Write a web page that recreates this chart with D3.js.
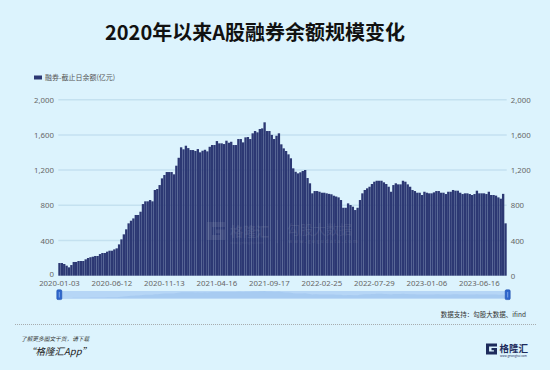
<!DOCTYPE html>
<html>
<head>
<meta charset="utf-8">
<script src="https://cdn.jsdelivr.net/npm/d3@7"></script>
<style>
  body { margin: 0; background: #dcf3fd; }
  svg { display: block; font-family: "Noto Sans CJK SC", "Noto Sans", sans-serif; }
</style>
</head>
<body>
<svg id="chart" width="550" height="370"></svg>
<script>
// weekly short-selling balance (亿元), last trading day of each week
var values = [
  144,144,133,114,95,121,156,156,167,167,
  167,186,201,210,216,224,224,246,258,258,
  273,284,284,299,311,356,413,470,527,595,
  625,651,690,690,727,814,845,845,860,845,
  974,985,1030,1106,1144,1178,1178,1178,1152,1250,
  1340,1459,1436,1477,1450,1428,1428,1417,1439,1402,
  1420,1431,1413,1465,1485,1485,1530,1504,1504,1496,
  1534,1511,1522,1485,1485,1553,1553,1515,1572,1576,
  1553,1618,1644,1629,1667,1674,1743,1644,1644,1600,
  1553,1590,1618,1493,1447,1417,1379,1334,1220,1181,
  1163,1175,1190,1201,1110,1050,936,962,962,954,
  943,943,936,930,925,909,900,890,860,772,
  772,822,803,784,746,772,860,936,974,993,
  1011,1042,1068,1079,1079,1079,1061,1042,1011,954,
  1030,1050,1038,1038,1079,1068,1038,1011,974,962,
  943,943,917,954,943,936,936,947,962,962,
  943,943,928,954,954,974,966,966,943,928,
  936,936,928,917,928,966,936,936,936,928,
  954,917,917,910,890,875,930,595
];

// weeks with no trading day at all (holidays)
var closedWeeks = ["2020-01-31", "2022-02-04", "2022-10-07", "2023-01-27"];
var yTicks = [0, 400, 800, 1200, 1600, 2000];
var labelEvery = 22;

var fmt = d3.timeFormat("%Y-%m-%d");
var weeks = d3.timeFriday.range(new Date(2020, 0, 3), new Date(2023, 8, 2))
  .map(fmt)
  .filter(function(d) { return closedWeeks.indexOf(d) < 0; });

var svg = d3.select("#chart");
var barColor = "#2c3873";

svg.append("rect").attr("width", 550).attr("height", 370).attr("fill", "#dcf3fd");

// title
svg.append("text")
  .attr("x", 255).attr("y", 40)
  .attr("text-anchor", "middle")
  .attr("font-size", 20).attr("font-weight", 700)
  .attr("fill", "#111")
  .text("2020年以来A股融券余额规模变化");

// legend
svg.append("rect").attr("x", 34).attr("y", 75.5).attr("width", 8).attr("height", 4).attr("fill", barColor);
svg.append("text")
  .attr("x", 45).attr("y", 80)
  .attr("font-size", 7).attr("fill", "#555")
  .text("融券-截止日余额(亿元)");

var x = d3.scaleBand()
  .domain(d3.range(values.length))
  .range([58.3, 506.7])
  .paddingInner(0.02);

var y = d3.scaleLinear().domain([0, 2000]).range([275.7, 99.7]);

// grid
svg.append("g").selectAll("line")
  .data(yTicks.slice(1))
  .enter().append("line")
  .attr("x1", 58.3).attr("x2", 506.7)
  .attr("y1", function(d) { return y(d); })
  .attr("y2", function(d) { return y(d); })
  .attr("stroke", "#c4e1f0").attr("stroke-width", 1.5);

// bars
svg.append("g").selectAll("rect")
  .data(values)
  .enter().append("rect")
  .attr("x", function(d, i) { return x(i); })
  .attr("width", x.bandwidth())
  .attr("y", function(d) { return y(d); })
  .attr("height", function(d) { return y(0) - y(d); })
  .attr("fill", barColor);

// watermark
function gIcon(g, x0, y0, s, fill) {
  var pts = [[1,0],[0,0],[0,1],[1,1],[1,0.42],[0.5,0.42],[0.5,0.62],[0.72,0.62],
             [0.72,0.72],[0.28,0.72],[0.28,0.28],[1,0.28]];
  g.append("path")
    .attr("d", d3.line()(pts.map(function(p) { return [x0 + p[0] * s, y0 + p[1] * s]; })) + "Z")
    .attr("fill", fill);
}
var wm = svg.append("g").attr("opacity", 0.16);
gIcon(wm, 207, 222, 18, "#9aa0b8");
wm.append("text").attr("x", 230).attr("y", 236).attr("font-size", 13).attr("font-weight", 700)
  .attr("fill", "#9aa0b8").text("格隆汇");
wm.append("text").attr("x", 230).attr("y", 243.5).attr("font-size", 3.5)
  .attr("fill", "#9aa0b8").text("www.gelonghui.com");
wm.append("line").attr("x1", 277.3).attr("x2", 277.3).attr("y1", 220).attr("y2", 243)
  .attr("stroke", "#9aa0b8").attr("stroke-width", 1);
wm.append("text").attr("x", 287).attr("y", 234).attr("font-size", 13)
  .attr("fill", "#9aa0b8").text("勾股大数据");
wm.append("text").attr("x", 288).attr("y", 243).attr("font-size", 5)
  .attr("letter-spacing", 1.35).attr("font-weight", 700)
  .attr("fill", "#9aa0b8").text("www.gogudata.com");

// axes
function styleAxis(g) {
  g.select(".domain").remove();
  g.selectAll("text").attr("fill", "#666").attr("font-size", 7.8)
    .attr("font-family", "\"Noto Sans\", sans-serif");
}
svg.append("g")
  .attr("transform", "translate(58.3,0)")
  .call(d3.axisLeft(y).tickValues(yTicks).tickSize(0).tickPadding(4.3).tickFormat(d3.format(",")))
  .call(styleAxis)
  .selectAll("text").attr("dy", function(d) { return d === 0 ? "0.1em" : "0.32em"; });
svg.append("g")
  .attr("transform", "translate(506.7,0)")
  .call(d3.axisRight(y).tickValues(yTicks).tickSize(0).tickPadding(4).tickFormat(d3.format(",")))
  .call(styleAxis);
svg.append("g")
  .attr("transform", "translate(0,275.7)")
  .call(d3.axisBottom(x)
    .tickValues(x.domain().filter(function(i) { return i % labelEvery === 0; }))
    .tickSize(0).tickPadding(5)
    .tickFormat(function(i) { return weeks[i]; }))
  .call(styleAxis);

// data zoom slider
var sy = d3.scaleLinear().domain([0, d3.max(values)]).range([298.5, 291]);
svg.append("rect").attr("x", 58.3).attr("y", 291).attr("width", 450).attr("height", 7.5)
  .attr("fill", "#b6d6f6");
svg.append("path")
  .datum(values)
  .attr("d", d3.area()
    .x(function(d, i) { return x(i) + x.bandwidth() / 2; })
    .y0(298.5)
    .y1(function(d) { return sy(d); }))
  .attr("fill", "#9cc3ee").attr("opacity", 0.6);
[58.3, 506.7].forEach(function(hx) {
  svg.append("rect").attr("x", hx - 1.5).attr("y", 289.8).attr("width", 5).attr("height", 9.8)
    .attr("rx", 1.2).attr("fill", "#2f66cc").attr("stroke", "#1d4fae").attr("stroke-width", 0.6);
  svg.append("line").attr("x1", hx + 1).attr("x2", hx + 1).attr("y1", 292).attr("y2", 297.5)
    .attr("stroke", "#8fb5ef").attr("stroke-width", 0.8);
});

// source
svg.append("text")
  .attr("x", 526).attr("y", 317)
  .attr("text-anchor", "end")
  .attr("font-size", 6.5).attr("fill", "#333")
  .text("数据支持：勾股大数据、ifind");

svg.append("line")
  .attr("x1", 15).attr("x2", 536).attr("y1", 324.5).attr("y2", 324.5)
  .attr("stroke", "#999").attr("stroke-width", 0.8).attr("stroke-dasharray", "1,1");

// footer
svg.append("text")
  .attr("x", 21).attr("y", 340.5)
  .attr("font-size", 5.7).attr("font-style", "italic").attr("fill", "#333")
  .text("了解更多图文干货，请下载");
svg.append("text")
  .attr("x", 26).attr("y", 355)
  .attr("font-size", 9.5).attr("font-style", "italic").attr("fill", "#222")
  .text("“格隆汇App”");

gIcon(svg, 486, 343.5, 11, "#1d2b5c");
svg.append("text").attr("x", 499.5).attr("y", 351.5).attr("font-size", 9.5).attr("font-weight", 700)
  .attr("fill", "#1d2b5c").text("格隆汇");
svg.append("text").attr("x", 500).attr("y", 357).attr("font-size", 2.8)
  .attr("fill", "#1d2b5c").text("www.gelonghui.com");
</script>
</body>
</html>
